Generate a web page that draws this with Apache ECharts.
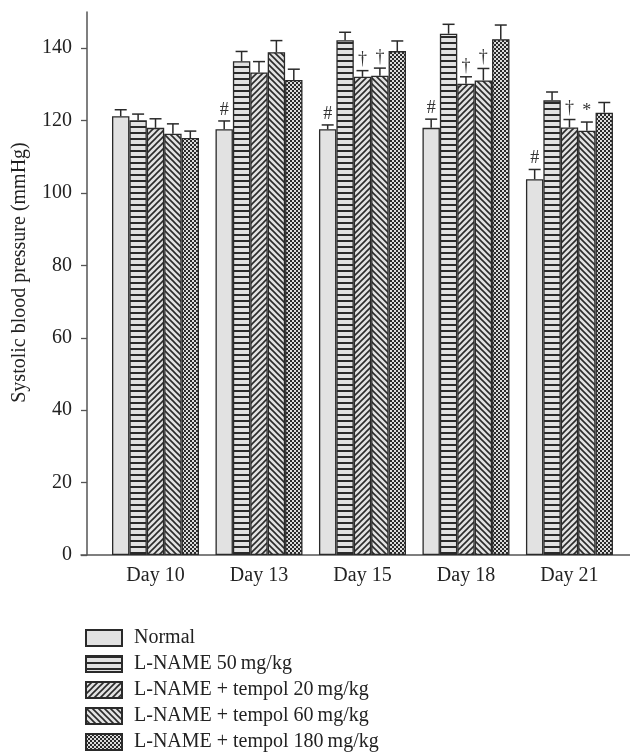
<!DOCTYPE html>
<html><head><meta charset="utf-8">
<script src="https://cdn.jsdelivr.net/npm/echarts@6/dist/echarts.min.js"></script>
<style>html,body{margin:0;padding:0;background:#fff}#c{width:630px;height:755px}</style>
</head><body><div id="c"></div>
<script>
const days = ['Day 10', 'Day 13', 'Day 15', 'Day 18', 'Day 21'];
const seriesNames = ['Normal', 'L-NAME 50\u2009mg/kg', 'L-NAME + tempol 20\u2009mg/kg', 'L-NAME + tempol 60\u2009mg/kg', 'L-NAME + tempol 180\u2009mg/kg'];
const normal = [121.2, 117.6, 117.6, 118.0, 103.8];
const lname50 = [120.1, 136.4, 142.2, 144.0, 125.6];
const tempol20 = [118.0, 133.3, 132.1, 130.2, 118.1];
const tempol60 = [116.4, 138.9, 132.4, 131.1, 117.2];
const tempol180 = [115.2, 131.2, 139.2, 142.5, 122.2];
const errNormal = [1.8, 2.3, 1.2, 2.4, 2.7];
const errLname50 = [1.7, 2.7, 2.2, 2.6, 2.3];
const errTempol20 = [2.5, 3.0, 1.7, 1.9, 2.2];
const errTempol60 = [2.7, 3.2, 2.1, 3.3, 2.4];
const errTempol180 = [1.9, 3.0, 2.8, 3.9, 2.8];
const markNormal = ['', '#', '#', '#', '#'];
const markLname50 = ['', '', '', '', ''];
const markTempol20 = ['', '', '\u2020', '\u2020', '\u2020'];
const markTempol60 = ['', '', '\u2020', '\u2020', '*'];
const markTempol180 = ['', '', '', '', ''];
const yTicks = [0, 20, 40, 60, 80, 100, 120, 140];

const values = [normal, lname50, tempol20, tempol60, tempol180];
const errs = [errNormal, errLname50, errTempol20, errTempol60, errTempol180];
const marks = [markNormal, markLname50, markTempol20, markTempol60, markTempol180];

const BG = '#e2e2e2', INK = '#2a2a2a';
function tile(w, h, draw) {
  const c = document.createElement('canvas'); c.width = w; c.height = h;
  const g = c.getContext('2d'); g.fillStyle = BG; g.fillRect(0, 0, w, h);
  g.fillStyle = INK; g.strokeStyle = INK; draw(g, w, h);
  return { image: c, repeat: 'repeat' };
}
const fills = [
  BG,
  tile(6, 6, g => { g.fillRect(0, 0, 6, 2); }),
  tile(6, 6, g => { g.lineWidth = 1.6; g.beginPath();
    g.moveTo(-1, 7); g.lineTo(7, -1); g.moveTo(-4, 4); g.lineTo(4, -4); g.moveTo(2, 10); g.lineTo(10, 2); g.stroke(); }),
  tile(6, 6, g => { g.lineWidth = 1.6; g.beginPath();
    g.moveTo(-1, -1); g.lineTo(7, 7); g.moveTo(-4, 2); g.lineTo(4, 10); g.moveTo(2, -4); g.lineTo(10, 4); g.stroke(); }),
  tile(4, 4, g => { g.fillRect(0, 0, 4, 4); g.fillStyle = '#dcdcdc'; g.fillRect(0, 0, 2, 2); g.fillRect(2, 2, 2, 2); })
];

const BW = 17.4;
const FONT = 'Liberation Serif';
const series = values.map((vals, i) => ({
  name: seriesNames[i], type: 'bar', barWidth: BW, barGap: '0%',
  data: vals.map((v, d) => [d, v]),
  itemStyle: { color: fills[i], borderColor: INK, borderWidth: 1.3 },
  silent: true, animation: false
}));
const errData = [];
values.forEach((vals, i) => vals.forEach((v, d) => errData.push([d, v, errs[i][d], i, marks[i][d]])));
series.push({
  type: 'custom', silent: true, animation: false, z: 5,
  data: errData,
  renderItem: (params, api) => {
    const i = api.value(3);
    const off = (i - 2) * BW;
    const base = api.coord([api.value(0), api.value(1)]);
    const top = api.coord([api.value(0), api.value(1) + api.value(2)]);
    const x = base[0] + off;
    const ch = [
      { type: 'line', shape: { x1: x, y1: base[1], x2: x, y2: top[1] }, style: { stroke: INK, lineWidth: 1.5 } },
      { type: 'line', shape: { x1: x - 6, y1: top[1], x2: x + 6, y2: top[1] }, style: { stroke: INK, lineWidth: 1.5 } }
    ];
    const m = errData[params.dataIndex][4];
    if (m) ch.push({ type: 'text', style: { text: m, x: x, y: top[1] - 2, align: 'center', verticalAlign: 'bottom',
      font: '18px "Liberation Serif"', fill: '#333' } });
    return { type: 'group', children: ch };
  }
});

const chart = echarts.init(document.getElementById('c'));
chart.setOption({
  animation: false,
  textStyle: { fontFamily: FONT },
  grid: { left: 81, right: 0, top: 12, bottom: 200, containLabel: false, outerBoundsMode: 'none' },
  xAxis: {
    type: 'value', min: -0.72, max: 4.585,
    axisLine: { show: true, onZero: false, lineStyle: { color: '#555', width: 1.5 } },
    axisTick: { show: false }, splitLine: { show: false },
    axisLabel: { customValues: [0, 1, 2, 3, 4], formatter: v => days[Math.round(v)], margin: 11,
      color: '#222', fontSize: 20, fontFamily: FONT }
  },
  yAxis: {
    type: 'value', min: 0, max: 150, offset: -6,
    name: 'Systolic blood pressure (mmHg)', nameLocation: 'middle', nameGap: 57,
    nameTextStyle: { fontSize: 20, color: '#222', fontFamily: FONT, padding: [0, 0, 0, 22] },
    axisLine: { show: true, onZero: false, lineStyle: { color: '#555', width: 1.5 } },
    axisTick: { show: true, customValues: yTicks, length: 6, lineStyle: { color: '#555', width: 1.3 } },
    splitLine: { show: false },
    axisLabel: { customValues: yTicks, margin: 15, color: '#222', fontSize: 20, fontFamily: FONT }
  },
  legend: {
    orient: 'vertical', left: 85, top: 628, height: 127, padding: 0, itemWidth: 36, itemHeight: 16, itemGap: 6,
    icon: 'rect', selectedMode: false,
    data: seriesNames,
    textStyle: { fontSize: 20, lineHeight: 16, color: '#222', fontFamily: FONT, padding: [0, 0, 0, 7] }
  },
  series: series
});
</script></body></html>
